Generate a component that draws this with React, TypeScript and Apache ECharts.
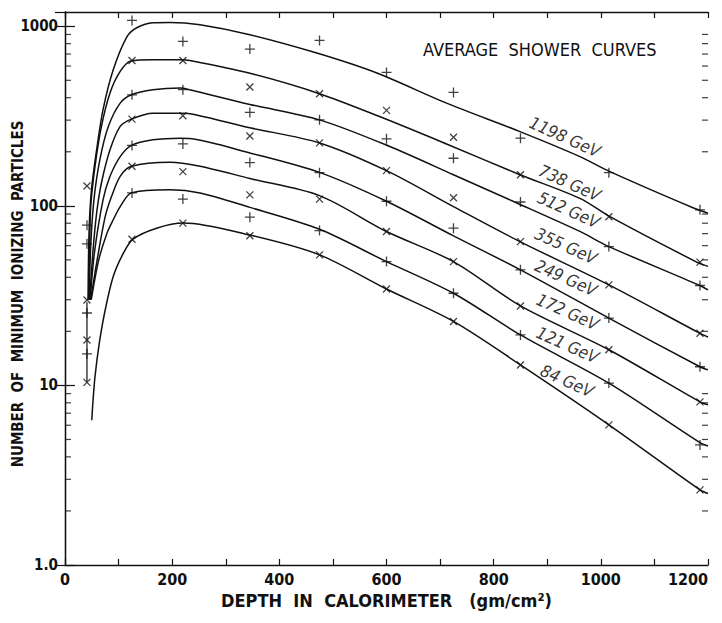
import React, { useEffect, useRef } from 'react';
import * as echarts from 'echarts';

// ---- data ----
const energies = ['1198 GeV', '738 GeV', '512 GeV', '355 GeV', '249 GeV', '172 GeV', '121 GeV', '84 GeV'];
const markerKinds = ['plus', 'cross', 'plus', 'cross', 'plus', 'cross', 'plus', 'cross'];
const markerDepths = [41, 125, 220, 345, 475, 600, 725, 850, 1015, 1185];

const pts1198 = [78, 1077, 823, 746, 834, 553, 428, 238, 153, 95];
const pts738 = [129, 645, 645, 459, 421, 340, 241, 149, 87, 48.6];
const pts512 = [61.4, 415, 443, 331, 301, 236, 184, 105, 59.3, 36];
const pts355 = [29.9, 304, 317, 245, 224, 157, 111, 63.2, 36.3, 19.5];
const pts249 = [25.3, 217, 221, 174, 153, 106, 75.1, 44, 23.7, 12.7];
const pts172 = [17.9, 166, 155, 115, 109, 71.9, 48.9, 27.7, 15.8, 8.1];
const pts121 = [15, 118, 109, 86.5, 72.8, 48.9, 32.6, 19.1, 10.3, 4.66];
const pts84 = [10.4, 65.2, 80.1, 68.1, 53.3, 34.4, 22.7, 13, 6.03, 2.62];

const curve1198 = [[43, 30], [44, 55], [46, 87], [50, 128], [59, 205], [71, 343], [90, 572], [116, 877], [134, 981], [164, 1046], [196, 1050], [252, 1019], [345, 897], [470, 709], [582, 549], [712, 373], [849, 259], [961, 188], [1017, 155], [1172, 97.5], [1200, 91]];
const curve738 = [[44, 30], [46, 60], [48, 99], [56, 166], [68, 277], [84, 425], [103, 560], [123, 640], [164, 651], [215, 651], [233, 645], [345, 547], [475, 421], [587, 314], [712, 221], [849, 149], [961, 110], [1017, 87], [1179, 48.6], [1200, 46]];
const curve512 = [[45, 30], [48, 60], [54, 108], [65, 180], [81, 277], [103, 373], [124, 415], [164, 443], [215, 453], [233, 443], [345, 367], [475, 301], [606, 214], [725, 149], [836, 106], [961, 72], [1015, 59.3], [1185, 36], [1200, 34]];
const curve355 = [[46, 30], [52, 55], [59, 91], [68, 134], [84, 205], [103, 277], [124, 304], [164, 328], [215, 328], [233, 326], [345, 272], [475, 224], [600, 157], [725, 99], [849, 63.2], [1015, 36.3], [1185, 19.5], [1200, 18.6]];
const curve249 = [[47, 30], [55, 55], [71, 108], [84, 146], [103, 188], [124, 217], [164, 233], [215, 238], [233, 237], [345, 197], [476, 153], [600, 106], [725, 68], [850, 44], [1015, 23.7], [1185, 12.7], [1200, 12.2]];
const curve172 = [[48, 30], [60, 50], [75, 87], [87, 113], [103, 146], [124, 166], [196, 175], [252, 166], [345, 142], [475, 114], [600, 71.9], [725, 48.9], [850, 27.7], [1015, 15.8], [1185, 8.1], [1200, 7.8]];
const curve121 = [[49, 30], [63, 50], [78, 70], [90, 83.6], [103, 99], [124, 118], [196, 123], [252, 118], [345, 98], [475, 74], [600, 48.9], [725, 32.6], [850, 19.1], [1015, 10.3], [1185, 4.8], [1200, 4.6]];
const curve84 = [[50, 6.4], [52, 8], [56, 11.2], [64, 17.2], [75, 26.3], [90, 40.4], [109, 54.5], [127, 65.2], [171, 75], [221, 80.1], [345, 68.7], [475, 53.3], [600, 34.4], [725, 22.7], [850, 13], [1015, 6.03], [1185, 2.62], [1200, 2.5]];

const connector = [[41, 29], [41, 10.4]];

const labelDepths = [933, 942, 940, 935, 935, 938, 938, 937];
const labelValues = [242, 134, 95, 59.8, 39.7, 25.7, 16.8, 10.6];

const minorTickValues = [2, 3, 4, 5, 6, 7, 8, 9, 20, 30, 40, 50, 60, 70, 80, 90, 200, 300, 400, 500, 600, 700, 800, 900];

const titleText = 'AVERAGE  SHOWER  CURVES';
const xTitle = 'DEPTH  IN  CALORIMETER   (gm/cm²)';
const yTitle = 'NUMBER  OF  MINIMUM  IONIZING  PARTICLES';

const allPts = [pts1198, pts738, pts512, pts355, pts249, pts172, pts121, pts84];
const allCurves = [curve1198, curve738, curve512, curve355, curve249, curve172, curve121, curve84];

const FONT = "'DejaVu Sans Condensed', 'DejaVu Sans', sans-serif";
const INK = '#111';

const PLUS = 'path://M5,0L5,10M0,5L10,5';
const CROSS = 'path://M0,0L10,10M10,0L0,10';

function buildOption() {
  const series: any[] = [];
  allCurves.forEach((c, i) => {
    series.push({
      type: 'line',
      name: energies[i],
      data: c,
      smooth: 0.3,
      showSymbol: false,
      symbol: 'none',
      lineStyle: { color: INK, width: 1.5 },
      silent: true,
      z: 2,
    });
  });
  allPts.forEach((p, i) => {
    const plus = markerKinds[i] === 'plus';
    series.push({
      type: 'scatter',
      data: markerDepths.map((d, j) => [d, p[j]]),
      symbol: plus ? PLUS : CROSS,
      symbolSize: plus ? 10 : 7,
      itemStyle: { color: 'none', borderColor: INK, borderWidth: 1.3 },
      silent: true,
      z: 3,
    });
  });
  series.push({
    type: 'line',
    data: connector,
    showSymbol: false,
    symbol: 'none',
    lineStyle: { color: INK, width: 1.2 },
    silent: true,
  });
  // labels
  series.push({
    type: 'scatter',
    data: labelDepths.map((d, i) => [d, labelValues[i], energies[i]]),
    symbolSize: 0,
    silent: true,
    z: 4,
    label: {
      show: true,
      position: 'inside',
      rotate: -24,
      formatter: (p: any) => p.data[2],
      color: '#000',
      textBorderWidth: 0,
      fontFamily: FONT,
      fontStyle: 'italic',
      fontSize: 17,
    },
  });
  // minor ticks left & right
  series.push({
    type: 'scatter',
    data: minorTickValues.map((v) => [0, v]),
    symbol: 'rect',
    symbolSize: [6, 1.2],
    symbolOffset: [3, 0],
    itemStyle: { color: INK },
    clip: false,
    silent: true,
  });
  series.push({
    type: 'scatter',
    data: minorTickValues.map((v) => [1200, v]),
    symbol: 'rect',
    symbolSize: [6, 1.2],
    symbolOffset: [-3, 0],
    itemStyle: { color: INK },
    clip: false,
    silent: true,
  });

  const axisLine = { show: true, lineStyle: { color: INK, width: 1.3 } };

  return {
    animation: false,
    backgroundColor: '#fff',
    grid: { left: 65, right: 14, top: 12, bottom: 58, containLabel: false, outerBoundsMode: 'none' },
    xAxis: [
      {
        type: 'value',
        min: 0,
        max: 1200,
        interval: 100,
        position: 'bottom',
        axisLine,
        axisTick: { show: true, inside: true, length: 6, lineStyle: { color: INK, width: 1.2 } },
        splitLine: { show: false },
        axisLabel: {
          margin: 6,
          color: INK,
          fontFamily: FONT,
          fontWeight: 'bold',
          fontSize: 16,
          alignMaxLabel: 'right',
          formatter: (v: number) => (v % 200 === 0 ? String(v) : ''),
        },
        name: xTitle,
        nameLocation: 'middle',
        nameGap: 23,
        nameTextStyle: { color: INK, fontFamily: FONT, fontWeight: 'bold', fontSize: 18 },
      },
      {
        type: 'value',
        min: 0,
        max: 1200,
        interval: 100,
        position: 'top',
        axisLine,
        axisTick: { show: true, inside: true, length: 6, lineStyle: { color: INK, width: 1.2 } },
        axisLabel: { show: false },
        splitLine: { show: false },
      },
    ],
    yAxis: [
      {
        type: 'log',
        logBase: 10,
        min: 1,
        max: 1200,
        position: 'left',
        axisLine,
        axisTick: { show: true, inside: true, length: 10, lineStyle: { color: INK, width: 1.2 } },
        splitLine: { show: false },
        axisLabel: {
          margin: 7,
          color: INK,
          fontFamily: FONT,
          fontWeight: 'bold',
          fontSize: 15,
          showMaxLabel: false,
          formatter: (v: number) => (v === 1 ? '1.0' : String(Math.round(v))),
        },
      },
      {
        type: 'log',
        logBase: 10,
        min: 1,
        max: 1200,
        position: 'right',
        axisLine,
        axisTick: { show: true, inside: true, length: 10, lineStyle: { color: INK, width: 1.2 } },
        axisLabel: { show: false },
        splitLine: { show: false },
      },
    ],
    graphic: [
      {
        type: 'text',
        left: 423,
        top: 40,
        style: { text: titleText, fill: INK, fontFamily: FONT, fontSize: 18 },
      },
      {
        type: 'text',
        x: 18,
        y: 294,
        rotation: Math.PI / 2,
        style: {
          text: yTitle,
          fill: INK,
          fontFamily: FONT,
          fontWeight: 'bold',
          fontSize: 15,
          align: 'center',
          verticalAlign: 'middle',
        },
      },
    ],
    series,
  };
}

export default function App() {
  const ref = useRef<HTMLDivElement>(null);
  useEffect(() => {
    const chart = echarts.init(ref.current!, null, { renderer: 'svg' });
    chart.setOption(buildOption() as any);
    return () => chart.dispose();
  }, []);
  return (
    <div
      ref={ref}
      style={{ position: 'fixed', left: 0, top: 0, width: 722, height: 623, background: '#fff' }}
    />
  );
}
